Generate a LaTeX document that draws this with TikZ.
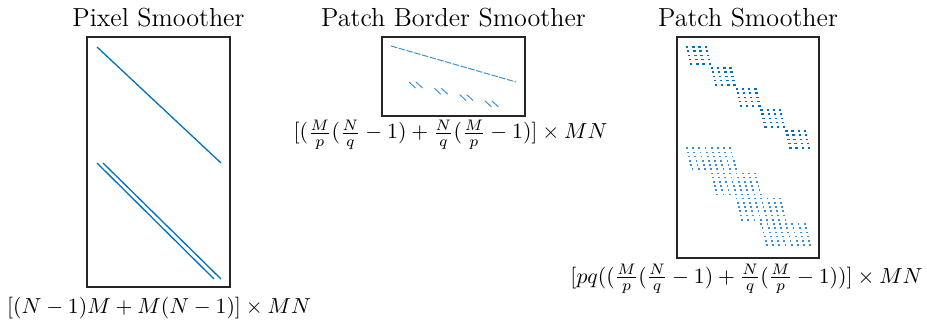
\documentclass[tikz,border=0pt]{standalone}
\usepackage{amsmath}
\definecolor{mblue}{RGB}{0,114,189}
\definecolor{lblue}{RGB}{60,145,212}
\begin{document}
\begin{tikzpicture}[x=0.46pt,y=-0.46pt,
  frame/.style={draw=black!85,line width=0.55pt},
  spyline/.style={draw=mblue,line width=0.6pt},
  thinspy/.style={draw=lblue,line width=0.45pt},
  title/.style={font=\large,anchor=base,inner sep=0pt},
  cost/.style={anchor=base,inner sep=0pt}]
\useasboundingbox (0,0) rectangle (927,320);

% ---------- Pixel Smoother ----------
\coordinate (pa) at (87,37);
\coordinate (pb) at (230,287);
\draw[frame] (pa) rectangle (pb);
\node[title] (t1) at (158.5,27) {Pixel Smoother};
\draw[spyline] (97,47) -- (221,163);
\draw[spyline] (97,163) -- (214,279);
\draw[spyline] (103,163) -- (221,279);
\node[cost] (c1) at (159,313.5) {$[(N-1)M+M(N-1)]\times MN$};

% ---------- Patch Border Smoother ----------
\coordinate (ba) at (382,37);
\coordinate (bb) at (525,116);
\draw[frame] (ba) rectangle (bb);
\node[title] (t2) at (453.5,27) {Patch Border Smoother};
\draw[thinspy,dash pattern=on 3pt off 0.7pt] (391,46) -- (516,82);
\foreach \k in {0,...,3}{
  \draw[thinspy] ({409+25.3*\k},{82+6.3*\k}) -- ++(6.5,6);
  \draw[thinspy] ({416+25.3*\k},{82+6.3*\k}) -- ++(6.5,6);
}
\node[cost] (c2) at (450.5,139) {$[(\frac{M}{p}(\frac{N}{q}-1)+\frac{N}{q}(\frac{M}{p}-1)]\times MN$};

% ---------- Patch Smoother ----------
\coordinate (sa) at (677,37);
\coordinate (sb) at (819,258);
\draw[frame] (sa) rectangle (sb);
\node[title] (t3) at (748,27) {Patch Smoother};
\foreach \g in {0,...,4}{
  \foreach \r in {0,...,4}{
    \foreach \c in {0,...,3}{
      \fill[mblue] ({686+24.8*\g+6.2*\c+1.0*\r},{46.3+21*\g+4.2*\r}) rectangle ++(2.4,1.6);
    }
  }
}
\foreach \g in {0,...,3}{
  \foreach \r in {0,...,5}{
    \foreach \c in {0,...,7}{
      \fill[lblue] ({686+24.8*\g+6.2*\c+1.1*\r},{147.5+25.2*\g+4.2*\r}) rectangle ++(1.8,1.6);
    }
  }
}
\node[cost] (c3) at (746.5,283) {$[pq((\frac{M}{p}(\frac{N}{q}-1)+\frac{N}{q}(\frac{M}{p}-1))]\times MN$};
\end{tikzpicture}
\end{document}
